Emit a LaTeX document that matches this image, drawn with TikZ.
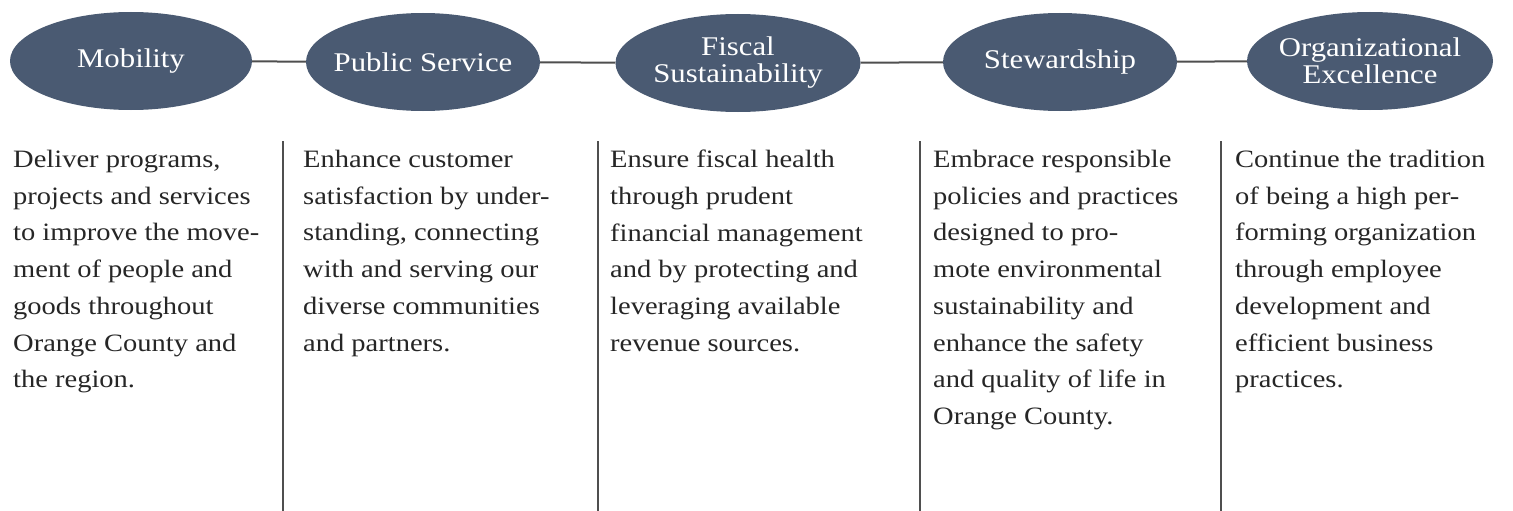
\documentclass[tikz,border=0pt]{standalone}
\usepackage{fontspec}
\setmainfont{Liberation Serif}[FakeStretch=1.14]
\usetikzlibrary{shapes.geometric}
\definecolor{goalSlate}{HTML}{4A5A72}
\definecolor{goalInk}{HTML}{262626}
\definecolor{goalGray}{HTML}{4F4F4F}
\tikzset{
  goalOval/.style={
    ellipse,
    fill=goalSlate,
    text=white,
    align=center,
    inner xsep=-10pt,
    inner ysep=0pt,
    minimum height=98pt,
    font=\fontsize{27}{27}\selectfont
  },
  goalLink/.style={draw=goalGray, line width=2pt},
  goalRule/.style={draw=goalGray, line width=2.6pt},
  goalText/.style={
    anchor=north west,
    align=left,
    inner sep=0pt,
    text=goalInk,
    font=\fontsize{25}{36.7}\selectfont
  }
}
\begin{document}
\begin{tikzpicture}[x=1pt,y=-1pt]
  \useasboundingbox (0,0) rectangle (1513,511);
  % goal ovals
  \node[goalOval, minimum width=242pt] (mob) at (131,61) {Mobility};
  \node[goalOval, minimum width=234pt] (pub) at (423,62) {Public Service};
  \node[goalOval, minimum width=245pt] (fis) at (738,63) {Fiscal\\Sustainability};
  \node[goalOval, minimum width=234pt] (stw) at (1060,62) {Stewardship};
  \node[goalOval, minimum width=246pt] (org) at (1370,61) {Organizational\\Excellence};
  \draw[goalLink] (mob) -- (pub);
  \draw[goalLink] (pub) -- (fis);
  \draw[goalLink] (fis) -- (stw);
  \draw[goalLink] (stw) -- (org);
  % column rules
  \foreach \x in {283,598,920,1221} {
    \draw[goalRule] (\x,141) -- (\x,511);
  }
  % descriptions
  \node[goalText] (mobText) at (13,150) {Deliver programs,\\projects and services\\to improve the move-\\ment of people and\\goods throughout\\Orange County and\\the region.};
  \node[goalText] (pubText) at (303,150) {Enhance customer\\satisfaction by under-\\standing, connecting\\with and serving our\\diverse communities\\and partners.};
  \node[goalText] (fisText) at (610,150) {Ensure fiscal health\\through prudent\\financial management\\and by protecting and\\leveraging available\\revenue sources.};
  \node[goalText] (stwText) at (933,150) {Embrace responsible\\policies and practices\\designed to pro-\\mote environmental\\sustainability and\\enhance the safety\\and quality of life in\\Orange County.};
  \node[goalText] (orgText) at (1235,150) {Continue the tradition\\of being a high per-\\forming organization\\through employee\\development and\\efficient business\\practices.};
\end{tikzpicture}
\end{document}
